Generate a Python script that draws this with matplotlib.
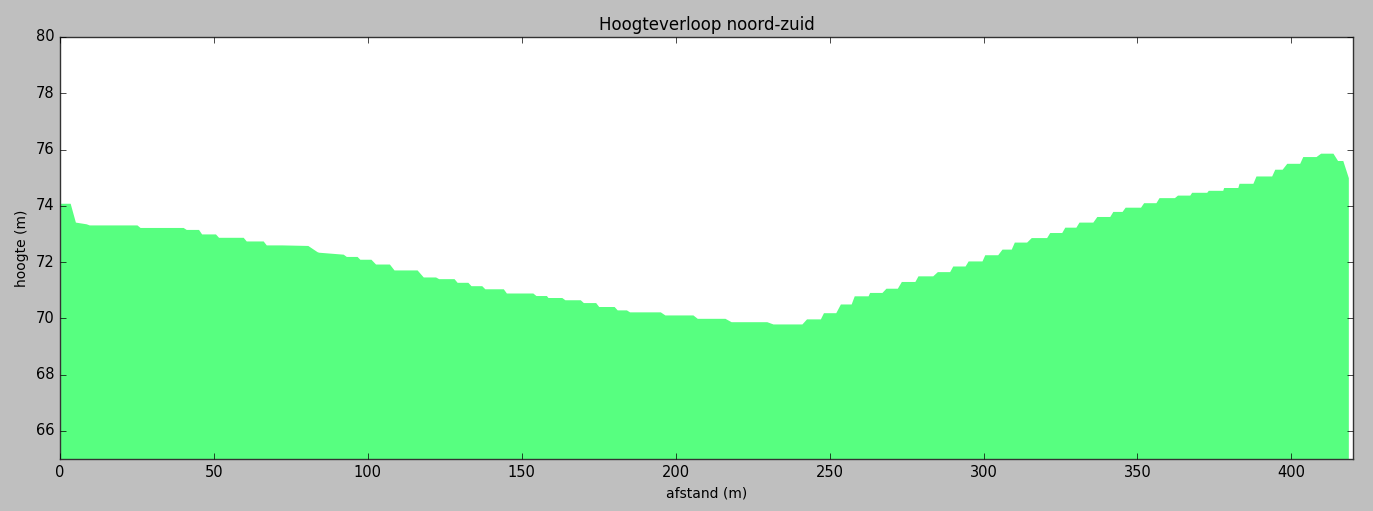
import matplotlib
matplotlib.use("Agg")
import matplotlib.pyplot as plt
import numpy as np

# hoogteprofiel noord-zuid
afstand = np.array([0, 3.3, 5.0, 8.5, 9.5, 25, 26, 40, 41, 45, 46, 50.5, 51.5, 59.5,
                    60.5, 66, 67, 72, 80.5, 83.5, 84, 92, 93, 96.5, 97.4, 101, 102.5,
                    107, 108.5, 116, 118, 122, 123, 128, 129, 132.5, 133.5, 137, 138,
                    144, 145, 153.6, 154.6, 158, 158.5, 163, 164, 169, 170, 174, 175,
                    180, 181, 184, 185, 195, 196.5, 205.6, 207, 216, 218, 229.6, 231.6,
                    241, 242.5, 247, 248, 252, 253.5, 257, 258, 262.5, 263, 267, 268.3,
                    272, 273.3, 277.7, 278.7, 283.5, 285, 289, 290, 294, 295, 299.5,
                    300.4, 304.6, 306, 309, 310, 314, 315.5, 320.5, 321.5, 325.4, 326.4,
                    330, 331, 335.5, 336.8, 341, 342, 345, 346, 351, 352, 356, 357, 362,
                    363, 367, 367.6, 372.5, 373, 377.7, 378, 382.6, 383, 387.5, 388.5,
                    393.6, 394.6, 397, 398.5, 402.7, 403.7, 408, 409.5, 413.5, 415,
                    416.7, 418, 418.5])
hoogte = np.array([74.09, 74.09, 73.42, 73.36, 73.32, 73.32, 73.23, 73.23, 73.16, 73.16,
                   73.0, 73.0, 72.88, 72.88, 72.75, 72.75, 72.61, 72.61, 72.59, 72.37,
                   72.35, 72.28, 72.2, 72.2, 72.1, 72.1, 71.93, 71.93, 71.72, 71.72,
                   71.47, 71.47, 71.41, 71.41, 71.28, 71.28, 71.16, 71.16, 71.05, 71.05,
                   70.9, 70.9, 70.81, 70.81, 70.74, 70.74, 70.66, 70.66, 70.56, 70.56,
                   70.42, 70.42, 70.3, 70.3, 70.23, 70.23, 70.12, 70.12, 70.0, 70.0,
                   69.88, 69.88, 69.8, 69.8, 69.98, 69.98, 70.2, 70.2, 70.51, 70.51,
                   70.8, 70.8, 70.92, 70.92, 71.07, 71.07, 71.31, 71.31, 71.51, 71.51,
                   71.66, 71.66, 71.86, 71.86, 72.04, 72.04, 72.26, 72.26, 72.46, 72.46,
                   72.71, 72.71, 72.87, 72.87, 73.05, 73.05, 73.24, 73.24, 73.42, 73.42,
                   73.62, 73.62, 73.8, 73.8, 73.95, 73.95, 74.11, 74.11, 74.29, 74.29,
                   74.38, 74.38, 74.48, 74.48, 74.55, 74.55, 74.65, 74.65, 74.8, 74.8,
                   75.06, 75.06, 75.3, 75.3, 75.51, 75.51, 75.75, 75.75, 75.87, 75.87,
                   75.61, 75.61, 75.17, 75.0])

plt.style.use("classic")
plt.rcParams["font.size"] = 10.5

fig = plt.figure(figsize=(13.73, 5.11), dpi=100)
ax = fig.add_axes([0.0437, 0.1018, 0.9417, 0.8258])

ax.fill_between(afstand, hoogte, 65, color="#57ff80", linewidth=0)

ax.set_xlim(0, 420)
ax.set_ylim(65, 80)
ax.set_xticks(np.arange(0, 401, 50))
ax.set_yticks(np.arange(66, 81, 2))
for s in ax.spines.values():
    s.set_color("#333333")

ax.set_title("Hoogteverloop noord-zuid", fontsize=12)
ax.set_xlabel("afstand (m)", fontsize=10)
ax.set_ylabel("hoogte (m)", fontsize=10)

fig.savefig("out.png", dpi=100, facecolor=fig.get_facecolor())
